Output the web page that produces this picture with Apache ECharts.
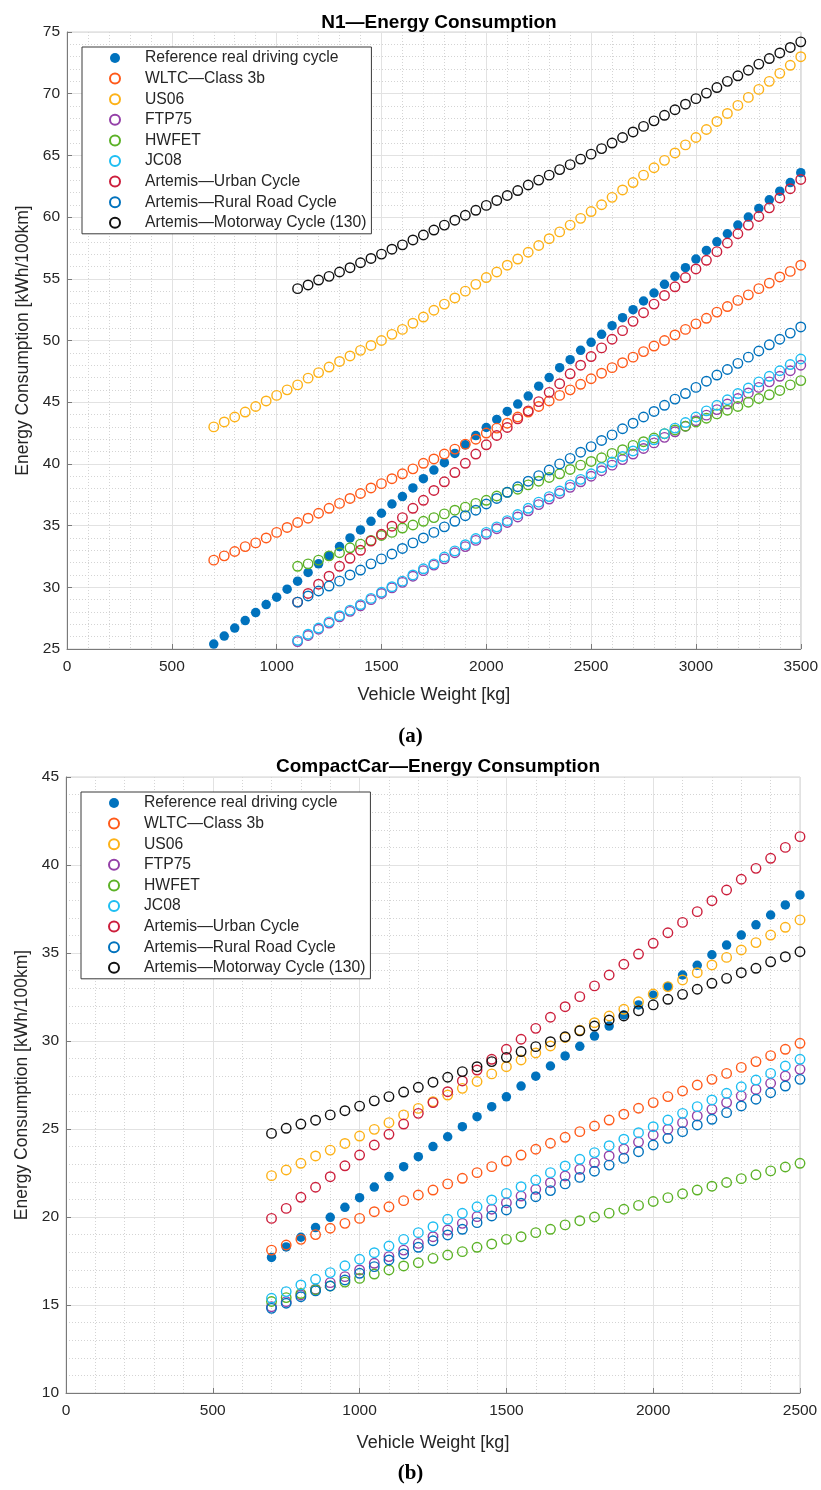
<!DOCTYPE html>
<html>
<head>
<meta charset="utf-8">
<script src="https://cdn.jsdelivr.net/npm/echarts@6/dist/echarts.min.js"></script>
<style>
html,body{margin:0;padding:0;background:#fff;}
#c{width:821px;height:1490px;}
</style>
</head>
<body>
<div id="c"></div>
<script>
// ---------- DATA ----------
const SERIES_NAMES = [
  'Reference real driving cycle', 'WLTC\u2014Class 3b', 'US06', 'FTP75', 'HWFET', 'JC08',
  'Artemis\u2014Urban Cycle', 'Artemis\u2014Rural Road Cycle', 'Artemis\u2014Motorway Cycle (130)'
];

// N1 chart weights [kg]
const N1_WEIGHTS_FULL = [
  700, 750, 800, 850, 900, 950, 1000, 1050, 1100, 1150,
  1200, 1250, 1300, 1350, 1400, 1450, 1500, 1550, 1600, 1650,
  1700, 1750, 1800, 1850, 1900, 1950, 2000, 2050, 2100, 2150,
  2200, 2250, 2300, 2350, 2400, 2450, 2500, 2550, 2600, 2650,
  2700, 2750, 2800, 2850, 2900, 2950, 3000, 3050, 3100, 3150,
  3200, 3250, 3300, 3350, 3400, 3450, 3500
];
const N1_WEIGHTS_SHORT = [
  1100, 1150, 1200, 1250, 1300, 1350, 1400, 1450, 1500, 1550,
  1600, 1650, 1700, 1750, 1800, 1850, 1900, 1950, 2000, 2050,
  2100, 2150, 2200, 2250, 2300, 2350, 2400, 2450, 2500, 2550,
  2600, 2650, 2700, 2750, 2800, 2850, 2900, 2950, 3000, 3050,
  3100, 3150, 3200, 3250, 3300, 3350, 3400, 3450, 3500
];
const N1_REF = [
  25.4, 26.05, 26.7, 27.3, 27.95, 28.6, 29.2, 29.85, 30.5, 31.2,
  31.9, 32.55, 33.3, 34.0, 34.65, 35.35, 36.0, 36.75, 37.35, 38.05,
  38.8, 39.5, 40.1, 40.85, 41.55, 42.3, 42.95, 43.6, 44.25, 44.85,
  45.5, 46.3, 47.0, 47.8, 48.45, 49.2, 49.85, 50.5, 51.2, 51.85,
  52.5, 53.2, 53.85, 54.55, 55.2, 55.9, 56.6, 57.3, 58.0, 58.65,
  59.35, 60.0, 60.7, 61.4, 62.1, 62.8, 63.6
];
const N1_WLTC = [
  32.2, 32.55, 32.9, 33.3, 33.6, 34.0, 34.45, 34.85, 35.25, 35.6,
  36.0, 36.4, 36.8, 37.2, 37.6, 38.05, 38.4, 38.8, 39.2, 39.6,
  40.05, 40.4, 40.8, 41.2, 41.6, 42.0, 42.5, 42.9, 43.3, 43.8,
  44.2, 44.65, 45.1, 45.55, 46.0, 46.45, 46.9, 47.35, 47.8, 48.2,
  48.65, 49.1, 49.55, 50.0, 50.45, 50.9, 51.35, 51.8, 52.3, 52.75,
  53.25, 53.7, 54.2, 54.65, 55.15, 55.6, 56.1
];
const N1_US06 = [
  43.0, 43.4, 43.8, 44.2, 44.65, 45.1, 45.55, 46.0, 46.4, 46.95,
  47.4, 47.85, 48.3, 48.75, 49.2, 49.6, 50.0, 50.5, 50.9, 51.4,
  51.9, 52.45, 52.95, 53.45, 54.0, 54.55, 55.1, 55.55, 56.1, 56.6,
  57.15, 57.7, 58.25, 58.8, 59.35, 59.9, 60.45, 61.0, 61.6, 62.2,
  62.8, 63.4, 64.0, 64.6, 65.2, 65.85, 66.45, 67.1, 67.75, 68.4,
  69.05, 69.7, 70.35, 71.0, 71.65, 72.3, 73.0
];
const N1_FTP75 = [
  25.6, 26.1, 26.6, 27.1, 27.6, 28.05, 28.5, 29.0, 29.5, 29.95,
  30.4, 30.9, 31.35, 31.8, 32.3, 32.8, 33.3, 33.8, 34.3, 34.75,
  35.25, 35.7, 36.2, 36.7, 37.15, 37.6, 38.1, 38.55, 39.0, 39.45,
  39.9, 40.35, 40.8, 41.25, 41.7, 42.15, 42.6, 43.05, 43.5, 43.95,
  44.4, 44.85, 45.3, 45.75, 46.2, 46.65, 47.1, 47.55, 48.0
];
const N1_HWFET = [
  31.7, 31.9, 32.2, 32.55, 32.8, 33.2, 33.5, 33.8, 34.2, 34.45,
  34.8, 35.05, 35.35, 35.65, 35.95, 36.25, 36.5, 36.8, 37.05, 37.4,
  37.7, 37.95, 38.3, 38.6, 38.9, 39.2, 39.55, 39.9, 40.2, 40.5,
  40.85, 41.15, 41.5, 41.8, 42.1, 42.45, 42.75, 43.05, 43.4, 43.7,
  44.05, 44.35, 44.65, 45.0, 45.3, 45.6, 45.95, 46.4, 46.75
];
const N1_JC08 = [
  25.7, 26.2, 26.7, 27.2, 27.7, 28.15, 28.6, 29.1, 29.6, 30.05,
  30.5, 31.0, 31.5, 31.9, 32.45, 32.95, 33.45, 33.95, 34.45, 34.9,
  35.4, 35.9, 36.4, 36.9, 37.35, 37.8, 38.3, 38.75, 39.2, 39.7,
  40.15, 40.6, 41.05, 41.5, 41.95, 42.45, 42.9, 43.35, 43.8, 44.3,
  44.75, 45.2, 45.7, 46.15, 46.65, 47.1, 47.55, 48.05, 48.5
];
const N1_URBAN = [
  28.8, 29.5, 30.25, 30.9, 31.7, 32.35, 33.0, 33.75, 34.3, 34.95,
  35.65, 36.4, 37.05, 37.85, 38.55, 39.3, 40.05, 40.8, 41.55, 42.3,
  42.95, 43.65, 44.3, 45.05, 45.8, 46.5, 47.3, 48.0, 48.7, 49.4,
  50.1, 50.8, 51.55, 52.25, 52.95, 53.65, 54.35, 55.1, 55.8, 56.5,
  57.2, 57.9, 58.65, 59.35, 60.05, 60.75, 61.55, 62.3, 63.05
];
const N1_RURAL = [
  28.8, 29.3, 29.7, 30.1, 30.5, 31.0, 31.4, 31.9, 32.3, 32.7,
  33.15, 33.6, 34.0, 34.45, 34.9, 35.35, 35.8, 36.25, 36.75, 37.2,
  37.7, 38.15, 38.6, 39.05, 39.5, 40.0, 40.45, 40.95, 41.4, 41.9,
  42.35, 42.85, 43.3, 43.8, 44.25, 44.75, 45.25, 45.7, 46.2, 46.7,
  47.2, 47.65, 48.15, 48.65, 49.15, 49.65, 50.1, 50.6, 51.1
];
const N1_MOTORWAY = [
  54.2, 54.5, 54.9, 55.2, 55.55, 55.9, 56.3, 56.65, 57.0, 57.4,
  57.75, 58.15, 58.55, 58.95, 59.35, 59.75, 60.15, 60.55, 60.95, 61.35,
  61.75, 62.15, 62.6, 63.0, 63.4, 63.85, 64.25, 64.7, 65.1, 65.55,
  66.0, 66.45, 66.9, 67.35, 67.8, 68.25, 68.7, 69.15, 69.6, 70.05,
  70.5, 71.0, 71.45, 71.9, 72.4, 72.85, 73.3, 73.75, 74.2
];

// CompactCar chart weights [kg]
const CC_WEIGHTS = [
  700, 750, 800, 850, 900, 950, 1000, 1050, 1100, 1150,
  1200, 1250, 1300, 1350, 1400, 1450, 1500, 1550, 1600, 1650,
  1700, 1750, 1800, 1850, 1900, 1950, 2000, 2050, 2100, 2150,
  2200, 2250, 2300, 2350, 2400, 2450, 2500
];
const CC_REF = [
  17.7, 18.3, 18.85, 19.4, 19.98, 20.55, 21.1, 21.7, 22.3, 22.86,
  23.43, 24.0, 24.56, 25.13, 25.7, 26.27, 26.83, 27.44, 28.0, 28.58,
  29.15, 29.7, 30.28, 30.85, 31.48, 32.05, 32.6, 33.1, 33.75, 34.3,
  34.9, 35.45, 36.02, 36.6, 37.16, 37.73, 38.3
];
const CC_WLTC = [
  18.12, 18.41, 18.73, 19.0, 19.36, 19.64, 19.92, 20.3, 20.58, 20.93,
  21.25, 21.53, 21.88, 22.2, 22.52, 22.86, 23.18, 23.52, 23.85, 24.19,
  24.53, 24.85, 25.17, 25.51, 25.84, 26.18, 26.5, 26.84, 27.16, 27.5,
  27.82, 28.16, 28.5, 28.83, 29.17, 29.53, 29.87
];
const CC_US06 = [
  22.35, 22.67, 23.05, 23.47, 23.8, 24.18, 24.6, 24.98, 25.36, 25.8,
  26.17, 26.55, 26.93, 27.31, 27.7, 28.13, 28.54, 28.92, 29.32, 29.72,
  30.2, 30.62, 31.04, 31.42, 31.8, 32.23, 32.67, 33.09, 33.47, 33.88,
  34.32, 34.75, 35.17, 35.59, 36.02, 36.46, 36.88
];
const CC_FTP75 = [
  14.9, 15.19, 15.57, 15.9, 16.27, 16.61, 16.99, 17.37, 17.75, 18.12,
  18.5, 18.88, 19.26, 19.64, 20.02, 20.44, 20.81, 21.19, 21.57, 21.95,
  22.33, 22.71, 23.09, 23.47, 23.86, 24.26, 24.66, 24.98, 25.36, 25.74,
  26.12, 26.5, 26.88, 27.25, 27.6, 28.01, 28.39
];
const CC_HWFET = [
  15.2, 15.42, 15.65, 15.87, 16.08, 16.3, 16.51, 16.76, 16.99, 17.22,
  17.4, 17.65, 17.84, 18.03, 18.28, 18.47, 18.73, 18.88, 19.11, 19.3,
  19.55, 19.79, 20.0, 20.22, 20.44, 20.66, 20.88, 21.1, 21.32, 21.53,
  21.75, 21.96, 22.18, 22.4, 22.62, 22.84, 23.05
];
const CC_JC08 = [
  15.38, 15.76, 16.14, 16.46, 16.84, 17.23, 17.6, 17.97, 18.35, 18.73,
  19.11, 19.45, 19.87, 20.21, 20.58, 20.97, 21.34, 21.72, 22.1, 22.52,
  22.9, 23.28, 23.66, 24.05, 24.42, 24.79, 25.13, 25.51, 25.89, 26.27,
  26.65, 27.03, 27.4, 27.78, 28.16, 28.58, 28.96
];
const CC_URBAN = [
  19.92, 20.49, 21.12, 21.69, 22.29, 22.91, 23.52, 24.09, 24.7, 25.28,
  25.89, 26.5, 27.12, 27.73, 28.35, 28.96, 29.53, 30.1, 30.72, 31.35,
  31.95, 32.52, 33.13, 33.75, 34.36, 34.94, 35.55, 36.15, 36.74, 37.35,
  37.97, 38.58, 39.19, 39.81, 40.38, 41.0, 41.61
];
const CC_RURAL = [
  14.81, 15.1, 15.47, 15.8, 16.08, 16.42, 16.8, 17.18, 17.56, 17.9,
  18.28, 18.65, 18.98, 19.3, 19.68, 20.06, 20.4, 20.78, 21.15, 21.5,
  21.88, 22.25, 22.6, 22.95, 23.33, 23.71, 24.09, 24.47, 24.85, 25.23,
  25.55, 25.93, 26.31, 26.69, 27.06, 27.44, 27.82
];
const CC_MOTORWAY = [
  24.75, 25.04, 25.28, 25.5, 25.8, 26.04, 26.3, 26.6, 26.84, 27.1,
  27.37, 27.66, 27.94, 28.26, 28.54, 28.83, 29.07, 29.4, 29.68, 29.96,
  30.24, 30.58, 30.85, 31.19, 31.42, 31.72, 32.05, 32.37, 32.65, 32.94,
  33.28, 33.56, 33.88, 34.13, 34.5, 34.79, 35.07
];

const N1_X_TICKS = [0, 500, 1000, 1500, 2000, 2500, 3000, 3500];
const N1_Y_TICKS = [25, 30, 35, 40, 45, 50, 55, 60, 65, 70, 75];
const CC_X_TICKS = [0, 500, 1000, 1500, 2000, 2500];
const CC_Y_TICKS = [10, 15, 20, 25, 30, 35, 40, 45];

// ---------- STYLE ----------
const FONT = "'Liberation Sans', Arial, Helvetica, sans-serif";
const COLORS = ['#0072BD', '#FF5A1A', '#FDB218', '#9440A8', '#5CB227', '#1EBEF2', '#CC1F3C', '#0072BD', '#111111'];
const TEXT = '#262626';
const AXIS = '#7a7a7a';

function pairs(xs, ys) { return ys.map((y, i) => [xs[i], y]); }

const N1_DATA = [
  pairs(N1_WEIGHTS_FULL, N1_REF), pairs(N1_WEIGHTS_FULL, N1_WLTC), pairs(N1_WEIGHTS_FULL, N1_US06),
  pairs(N1_WEIGHTS_SHORT, N1_FTP75), pairs(N1_WEIGHTS_SHORT, N1_HWFET), pairs(N1_WEIGHTS_SHORT, N1_JC08),
  pairs(N1_WEIGHTS_SHORT, N1_URBAN), pairs(N1_WEIGHTS_SHORT, N1_RURAL), pairs(N1_WEIGHTS_SHORT, N1_MOTORWAY)
];
const CC_DATA = [
  pairs(CC_WEIGHTS, CC_REF), pairs(CC_WEIGHTS, CC_WLTC), pairs(CC_WEIGHTS, CC_US06),
  pairs(CC_WEIGHTS, CC_FTP75), pairs(CC_WEIGHTS, CC_HWFET), pairs(CC_WEIGHTS, CC_JC08),
  pairs(CC_WEIGHTS, CC_URBAN), pairs(CC_WEIGHTS, CC_RURAL), pairs(CC_WEIGHTS, CC_MOTORWAY)
];

function makeSeries(dataSets, gridIdx) {
  return dataSets.map((d, i) => ({
    type: 'scatter',
    name: SERIES_NAMES[i],
    xAxisIndex: gridIdx, yAxisIndex: gridIdx,
    data: d,
    symbol: 'circle',
    symbolSize: 9.5,
    itemStyle: i === 0
      ? { color: COLORS[i], borderWidth: 0, opacity: 1 }
      : { color: 'rgba(0,0,0,0)', borderColor: COLORS[i], borderWidth: 1.4, opacity: 1 },
    emphasis: { disabled: true },
    silent: true,
    z: 2 + i * 0.01
  }));
}

function xAxis(gridIdx, ticks, nameGap) {
  return {
    type: 'value', gridIndex: gridIdx,
    min: ticks[0], max: ticks[ticks.length - 1], interval: 500,
    name: 'Vehicle Weight [kg]', nameLocation: 'middle', nameGap: nameGap,
    nameTextStyle: { fontSize: 18, color: TEXT, fontFamily: FONT },
    axisLine: { show: true, onZero: false, lineStyle: { color: AXIS, width: 1 } },
    axisTick: { show: true, inside: true, length: 5, lineStyle: { color: AXIS } },
    axisLabel: { fontSize: 15.5, color: TEXT, fontFamily: FONT, margin: 10, formatter: v => String(v) },
    splitLine: { show: true, lineStyle: { color: '#e2e2e2', width: 1 } },
    minorTick: { show: false, splitNumber: 5 },
    minorSplitLine: { show: true, lineStyle: { color: '#d4d4d4', width: 1, type: [1, 2] } }
  };
}
function yAxis(gridIdx, ticks, nameGap) {
  return {
    type: 'value', gridIndex: gridIdx,
    min: ticks[0], max: ticks[ticks.length - 1], interval: 5,
    name: 'Energy Consumption [kWh/100km]', nameLocation: 'middle', nameGap: nameGap,
    nameTextStyle: { fontSize: 17.5, color: TEXT, fontFamily: FONT },
    axisLine: { show: true, lineStyle: { color: AXIS, width: 1 } },
    axisTick: { show: true, inside: true, length: 5, lineStyle: { color: AXIS } },
    axisLabel: { fontSize: 15.5, color: TEXT, fontFamily: FONT, margin: 7, formatter: v => String(v) },
    splitLine: { show: true, lineStyle: { color: '#e2e2e2', width: 1 } },
    minorTick: { show: false, splitNumber: 5 },
    minorSplitLine: { show: true, lineStyle: { color: '#d4d4d4', width: 1, type: [1, 2] } }
  };
}
function legend(left, top) {
  return {
    orient: 'vertical', left: left, top: top,
    data: SERIES_NAMES,
    padding: [3, 5, 3, 27],
    itemWidth: 50, itemHeight: 10, itemGap: 4.6,
    backgroundColor: '#ffffff', borderColor: '#3a3a3a', borderWidth: 1,
    selectedMode: false,
    textStyle: { fontSize: 15.7, color: TEXT, fontFamily: FONT },
    z: 10
  };
}

const chart = echarts.init(document.getElementById('c'), null, { renderer: 'canvas' });
chart.setOption({
  animation: false,
  backgroundColor: '#ffffff',
  title: [
    { text: 'N1\u2014Energy Consumption', left: 434, top: 8, textAlign: 'center',
      textStyle: { fontSize: 19, fontWeight: 'bold', color: '#000', fontFamily: FONT } },
    { text: 'CompactCar\u2014Energy Consumption', left: 433, top: 752, textAlign: 'center',
      textStyle: { fontSize: 19, fontWeight: 'bold', color: '#000', fontFamily: FONT } }
  ],
  grid: [
    { left: 67, top: 32, width: 734, height: 617, show: true, borderColor: '#d2d2d2', borderWidth: 1, backgroundColor: 'transparent' },
    { left: 66, top: 777, width: 734, height: 616, show: true, borderColor: '#d2d2d2', borderWidth: 1, backgroundColor: 'transparent' }
  ],
  xAxis: [xAxis(0, N1_X_TICKS, 37), xAxis(1, CC_X_TICKS, 41)],
  yAxis: [yAxis(0, N1_Y_TICKS, 30), yAxis(1, CC_Y_TICKS, 30)],
  legend: [legend(82, 47), legend(81, 792)],
  graphic: [
    { type: 'text', left: 'center', top: 726, style: { text: '(a)', fontSize: 21, fontWeight: 'bold', fill: '#000', fontFamily: "'Liberation Serif', 'DejaVu Serif', serif" } },
    { type: 'text', left: 'center', top: 1463, style: { text: '(b)', fontSize: 21, fontWeight: 'bold', fill: '#000', fontFamily: "'Liberation Serif', 'DejaVu Serif', serif" } }
  ],
  series: makeSeries(N1_DATA, 0).concat(makeSeries(CC_DATA, 1))
});
</script>
</body>
</html>
